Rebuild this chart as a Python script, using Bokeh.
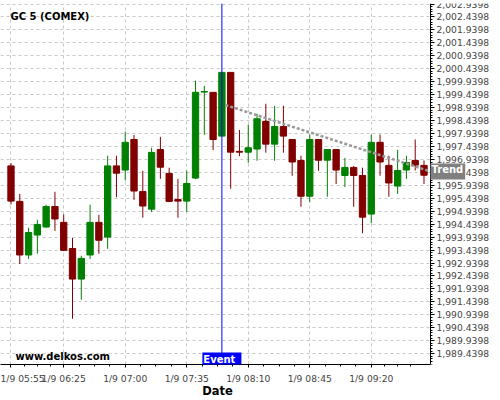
import numpy as np
from bokeh.plotting import figure
from bokeh.models import (ColumnDataSource, FixedTicker, NumeralTickFormatter,
                          Span, Label, Range1d)
from bokeh.embed import file_html
from bokeh.resources import INLINE

# ---------------- data ----------------
times = ["05:55", "06:00", "06:05", "06:10", "06:15", "06:20", "06:25", "06:30",
         "06:35", "06:40", "06:45", "06:50", "06:55", "07:00", "07:05", "07:10",
         "07:15", "07:20", "07:25", "07:30", "07:35", "07:40", "07:45", "07:50",
         "07:55", "08:00", "08:05", "08:10", "08:15", "08:20", "08:25", "08:30",
         "08:35", "08:40", "08:45", "08:50", "08:55", "09:00", "09:05", "09:10",
         "09:15", "09:20", "09:25", "09:30", "09:35", "09:40", "09:45", "09:50"]
opens = [1996.69, 1995.32, 1993.25, 1994.02, 1994.33, 1995.12, 1994.51, 1993.50,
         1992.32, 1993.25, 1994.51, 1993.94, 1996.69, 1996.53, 1997.71, 1995.70,
         1995.02, 1997.32, 1996.40, 1995.39, 1995.33, 1996.22, 1999.54, 1999.53,
         1997.84, 2000.30, 1997.25, 1997.22, 1997.34, 1998.41, 1997.53, 1998.21,
         1997.71, 1996.90, 1995.52, 1997.71, 1996.91, 1997.32, 1996.32, 1996.63,
         1996.32, 1994.83, 1997.60, 1996.71, 1995.91, 1996.53, 1996.90, 1996.71]
highs = [1996.80, 1995.61, 1994.30, 1994.61, 1995.19, 1995.69, 1994.82, 1993.91,
         1993.22, 1995.19, 1994.80, 1997.08, 1997.08, 1998.01, 1997.88, 1996.50,
         1997.39, 1997.81, 1996.62, 1996.19, 1996.51, 1999.98, 1999.78, 1999.53,
         2000.30, 2000.30, 1998.08, 1998.28, 1998.70, 1999.09, 1999.01, 1999.01,
         1997.71, 1997.08, 1997.90, 1997.71, 1997.32, 1997.32, 1997.00, 1996.69,
         1996.62, 1997.90, 1997.90, 1997.08, 1997.31, 1997.08, 1997.71, 1996.90]
lows = [1995.20, 1992.90, 1993.10, 1993.30, 1994.29, 1994.18, 1993.40, 1990.79,
        1991.52, 1993.10, 1993.30, 1993.49, 1995.48, 1996.13, 1995.38, 1994.69,
        1994.91, 1996.19, 1995.29, 1994.69, 1994.91, 1996.18, 1997.89, 1997.30,
        1997.84, 1995.81, 1997.07, 1996.81, 1996.89, 1997.20, 1996.89, 1997.20,
        1996.31, 1995.11, 1995.29, 1996.50, 1995.50, 1995.99, 1995.87, 1995.11,
        1994.09, 1994.48, 1996.31, 1995.50, 1995.61, 1996.19, 1996.51, 1995.99]
closes = [1995.33, 1993.25, 1994.12, 1994.43, 1995.12, 1994.64, 1993.43, 1992.32,
          1993.12, 1994.51, 1993.82, 1996.69, 1996.41, 1997.60, 1995.72, 1995.14,
          1997.21, 1996.64, 1995.32, 1995.33, 1996.01, 1999.53, 1999.56, 1997.71,
          2000.30, 1997.22, 1997.22, 1997.39, 1998.51, 1997.53, 1998.21, 1997.84,
          1996.84, 1995.52, 1997.71, 1996.91, 1997.32, 1996.53, 1996.63, 1996.32,
          1994.71, 1997.60, 1996.84, 1996.03, 1996.51, 1996.82, 1996.72, 1996.33]

x_tick_times = ["05:55", "06:25", "07:00", "07:35", "08:10", "08:45", "09:20"]
x_tick_labels = ["1/9 05:55", "1/9 06:25", "1/9 07:00", "1/9 07:35",
                 "1/9 08:10", "1/9 08:45", "1/9 09:20"]
y_tick_first = 1989.4398
y_tick_step = 0.5
y_tick_count = 28

event_time = "07:55"
trend_times = ["07:57", "09:54"]
trend_prices = [1999.04, 1996.47]
title_text = "GC 5 (COMEX)"
watermark_text = "www.delkos.com"
x_axis_title = "Date"

# ---------------- helpers ----------------
def to_min(t):
    h, m = map(int, t.split(":"))
    return h * 60 + m - (5 * 60 + 55)

x = [to_min(t) for t in times]
up = [c >= o for o, c in zip(opens, closes)]
UP, DOWN = "#008000", "#800000"
colors = [UP if u else DOWN for u in up]
src = ColumnDataSource(dict(
    x=x, high=highs, low=lows,
    top=[max(o, c) for o, c in zip(opens, closes)],
    bottom=[min(o, c) for o, c in zip(opens, closes)],
    color=colors))

FONT = "DejaVu Sans"
W, H = 500, 400
AXIS_PX, FRAME_T, FRAME_B = 430, 3, 364       # price axis at x=430 px
X0, XA = -5.97, 238.7                           # time at left edge / at price axis
px_per_min = AXIS_PX / (XA - X0)
X1 = X0 + W / px_per_min                        # plotting area runs under the axis
Y0, Y1 = 1989.022, 2002.96
px_per_unit = (FRAME_B - FRAME_T) / (Y1 - Y0)

p = figure(width=W, height=H, output_backend="svg", toolbar_location=None,
           x_range=Range1d(X0, X1), y_range=Range1d(Y0, Y1),
           y_axis_location="right",
           min_border_left=0, min_border_right=0,
           min_border_top=FRAME_T, min_border_bottom=H - FRAME_B)
p.outline_line_color = None
p.background_fill_color = "white"
p.border_fill_color = "white"

# time axis
xt = [to_min(t) for t in x_tick_times]
x_minor = []
for a, b in zip(xt[:-1], xt[1:]):
    step = (b - a) / 4
    x_minor += [a + step * k for k in range(1, 4)]
x_minor += [xt[-1] + 7.5 * k for k in range(1, 4)]
p.xaxis.ticker = FixedTicker(ticks=xt, minor_ticks=x_minor)
p.xaxis.bounds = (X0, XA)
p.xaxis.major_label_overrides = {t: lab for t, lab in zip(xt, x_tick_labels)}
p.xaxis.major_label_standoff = 5
p.xaxis.major_label_text_font = FONT
p.xaxis.major_label_text_font_size = "9.2px"
p.xaxis.major_tick_in = 0
p.xaxis.major_tick_out = 3
p.xaxis.minor_tick_in = 0
p.xaxis.minor_tick_out = 2
p.xaxis.axis_line_color = "black"

# price axis, drawn at the time XA
yt = [y_tick_first + y_tick_step * k for k in range(y_tick_count)]
y_minor = [y_tick_first - 0.4 + 0.1 * k for k in range(5 * y_tick_count + 3)]
p.yaxis.ticker = FixedTicker(ticks=yt, minor_ticks=y_minor)
p.yaxis.fixed_location = XA
p.yaxis.formatter = NumeralTickFormatter(format="0,0.0000")
p.yaxis.major_label_text_font = FONT
p.yaxis.major_label_text_font_size = "9.2px"
p.yaxis.major_label_standoff = 2
p.yaxis.major_tick_in = 0
p.yaxis.major_tick_out = 4
p.yaxis.minor_tick_in = 0
p.yaxis.minor_tick_out = 2
p.yaxis.axis_line_color = "black"

for g in (p.xgrid, p.ygrid):
    g.grid_line_color = "#c8c8c8"
    g.grid_line_dash = "3 3"
    g.grid_line_width = 1
try:
    p.ygrid.cross_bounds = (X0, XA)
except Exception:
    p.ygrid.visible = False
    p.segment(x0=[X0] * len(yt), y0=yt, x1=[XA] * len(yt), y1=yt,
              line_color="#c8c8c8", line_dash="3 3", line_width=1, level="underlay")

# candles
p.segment(x0="x", y0="low", x1="x", y1="high", source=src,
          line_color="color", line_width=1)
p.vbar(x="x", width=3.6, top="top", bottom="bottom", source=src,
       fill_color="color", line_color="color", line_width=1)

# trend line
tx = [to_min(t) for t in trend_times]
p.line(tx, trend_prices, line_color="#999999", line_width=2.5, line_dash="3 2")
trend_at_axis = trend_prices[0] + (trend_prices[1] - trend_prices[0]) * \
    (XA - tx[0]) / (tx[1] - tx[0])

# event
ev = to_min(event_time)
p.add_layout(Span(location=ev, dimension="height", line_color="#0000ff",
                  line_width=1))

p.add_layout(Label(x=ev, y=Y0 + 3 / px_per_unit, text="Event", text_font=FONT,
                   text_font_style="bold", text_font_size="10px",
                   text_color="white", background_fill_color="#0000ff",
                   anchor="center", text_align="center",
                   text_baseline="middle", padding=(1, 6, 1, 6)))

p.add_layout(Label(x=XA, y=trend_at_axis, text="Trend", text_font=FONT,
                   text_font_style="bold", text_font_size="10px",
                   text_color="white", background_fill_color="#808080",
                   anchor="center_left", text_align="left",
                   text_baseline="middle", padding=(1, 2, 1, 4)))

p.add_layout(Label(x=X0 + 10 / px_per_min, y=Y1 - 12.5 / px_per_unit,
                   text=title_text, text_font=FONT, text_font_style="bold",
                   text_font_size="10px", text_color="black",
                   text_align="left", text_baseline="middle"))

p.add_layout(Label(x=X0 + 15 / px_per_min, y=Y0 + 8 / px_per_unit,
                   text=watermark_text, text_font=FONT, text_font_style="bold",
                   text_font_size="10px", text_color="black",
                   text_align="left", text_baseline="middle"))

# axis title centred under the time axis (in the bottom panel)
p.add_layout(Label(x=AXIS_PX / 2 + 2, y=390, x_units="canvas", y_units="canvas",
                   text=x_axis_title, text_font=FONT, text_font_style="bold",
                   text_font_size="11.5px", text_color="black",
                   text_align="center", text_baseline="middle"), "below")

open("out.html", "w").write(file_html(p, INLINE))
